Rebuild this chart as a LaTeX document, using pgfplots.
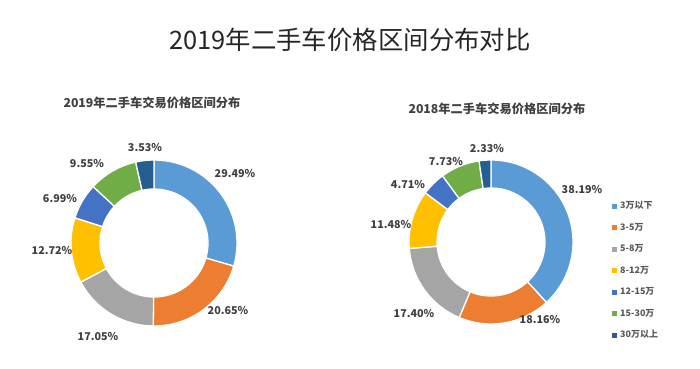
\documentclass[border=0pt]{standalone}
\usepackage{pgfplots}
\pgfplotsset{compat=1.18}
\usepackage{pgfplotstable}
\usepackage{fontspec}
\setmainfont{Noto Sans CJK SC}
\definecolor{c0}{HTML}{5B9BD5}
\definecolor{c1}{HTML}{ED7D31}
\definecolor{c2}{HTML}{A5A5A5}
\definecolor{c3}{HTML}{FFC000}
\definecolor{c4}{HTML}{4472C4}
\definecolor{c5}{HTML}{70AD47}
\definecolor{c6}{HTML}{255E91}
\definecolor{txt}{HTML}{404040}
\definecolor{leg}{HTML}{595959}

% value, label x, label y (axis units = bp, y up)
\pgfplotstableread{
v lx ly
29.49 235 195
20.65 228 58
17.05 98 32
12.72 52 118
6.99 60 170
9.55 87 205
3.53 145 221
}\dataA
\pgfplotstableread{
v lx ly
38.19 582 179
18.16 540 49
17.40 414 55
11.48 391 144
4.71 408 184
7.73 446 207
2.33 487 220
}\dataB

\newcommand\donut[5]{% table, cx, cy, Ro, Ri
  \pgfplotstablegetrowsof{#1}%
  \pgfmathtruncatemacro\N{\pgfplotsretval-1}%
  \xdef\cum{0}%
  \foreach \i in {0,...,\N}{%
    \pgfplotstablegetelem{\i}{v}\of#1\let\v\pgfplotsretval
    \pgfplotstablegetelem{\i}{lx}\of#1\let\lx\pgfplotsretval
    \pgfplotstablegetelem{\i}{ly}\of#1\let\ly\pgfplotsretval
    \pgfmathsetmacro\s{90-3.6*\cum}%
    \pgfmathsetmacro\e{90-3.6*(\cum+\v)}%
    \fill[c\i, draw=white, line width=1.3bp]
      ([shift={(\s:#4bp)}]axis cs:#2,#3) arc[start angle=\s, end angle=\e, radius=#4bp]
      -- ([shift={(\e:#5bp)}]axis cs:#2,#3) arc[start angle=\e, end angle=\s, radius=#5bp] -- cycle;
    \node[font=\fontsize{10.8}{12}\selectfont\bfseries, text=txt, inner sep=0pt] at (axis cs:\lx,\ly) {\v\%};
    \pgfmathsetmacro\cumnew{\cum+\v}%
    \xdef\cum{\cumnew}%
  }%
}

\begin{document}
\begin{tikzpicture}
\begin{axis}[
  scale only axis, width=700bp, height=368bp,
  xmin=0, xmax=700, ymin=0, ymax=368,
  hide axis, clip=false,
  legend style={at={(0.874,0.455)}, anchor=north west, draw=none, fill=none,
    font=\fontsize{9}{10}\selectfont\bfseries, text=leg,
    row sep=10.5bp, inner sep=0pt, outer sep=0pt,
    nodes={inner sep=1bp, text height=7bp, text depth=2bp},
    cells={anchor=west},
    /tikz/every odd column/.append style={column sep=3bp}},
  legend image code/.code={\fill[#1] (0bp,-2bp) rectangle (4bp,2bp);},
]
\addlegendimage{c0}\addlegendentry{3万以下}
\addlegendimage{c1}\addlegendentry{3-5万}
\addlegendimage{c2}\addlegendentry{5-8万}
\addlegendimage{c3}\addlegendentry{8-12万}
\addlegendimage{c4}\addlegendentry{12-15万}
\addlegendimage{c5}\addlegendentry{15-30万}
\addlegendimage{c6}\addlegendentry{30万以上}
\pgfplotsextra{%
  \path (axis cs:0,0) rectangle (axis cs:700,368);
  \donut{\dataA}{154}{125}{83}{54}
  \donut{\dataB}{491}{126}{82}{54}
  \node[font=\fontsize{25.5}{28}\selectfont, text=black!85] at (axis cs:350,328) {2019年二手车价格区间分布对比};
  \node[font=\fontsize{12.3}{14}\selectfont\bfseries, text=txt] at (axis cs:152,265) {2019年二手车交易价格区间分布};
  \node[font=\fontsize{12.3}{14}\selectfont\bfseries, text=txt] at (axis cs:497,259) {2018年二手车交易价格区间分布};
}
\end{axis}
\end{tikzpicture}
\end{document}
